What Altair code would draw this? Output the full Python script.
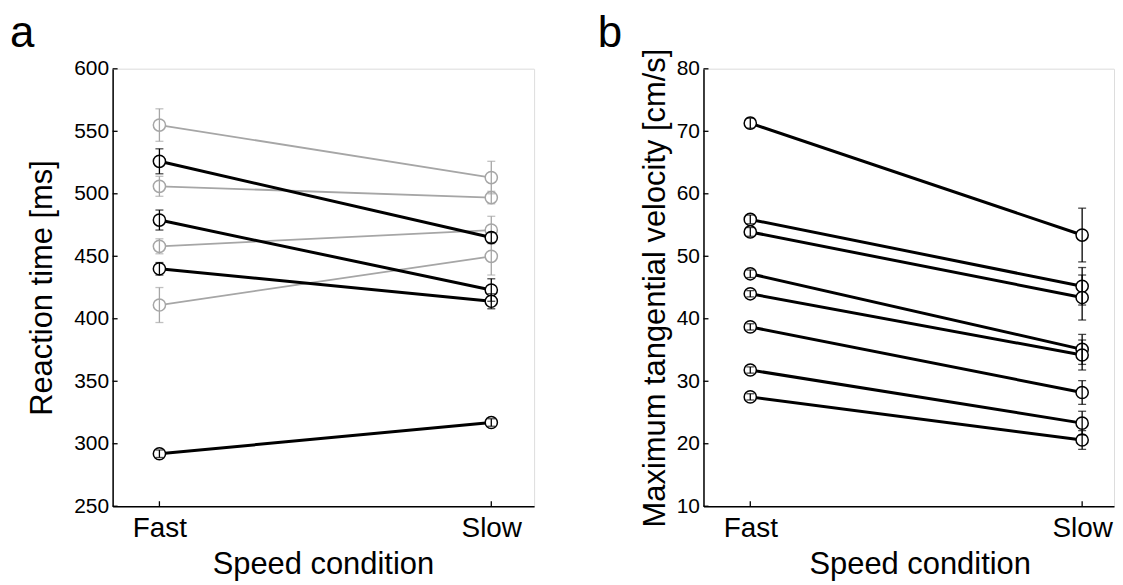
import altair as alt
import pandas as pd

FONT = "Liberation Sans"

conditions = ["Fast", "Slow"]
panel_letters = ["a", "b"]
x_title = "Speed condition"
rt_title = "Reaction time [ms]"
vel_title = "Maximum tangential velocity [cm/s]"

# Panel a: reaction time (ms)
rt_gray_fast = [555, 506, 458, 411]
rt_gray_slow = [513, 497, 471, 450]
rt_gray_fast_err = [13, 8, 6, 14]
rt_gray_slow_err = [13, 5, 11, 15]
rt_black_fast = [526, 479, 440, 292]
rt_black_slow = [465, 423, 414, 317]
rt_black_fast_err = [10, 8, 5, 3]
rt_black_slow_err = [4, 9, 6, 3]
rt_ticks = [250, 300, 350, 400, 450, 500, 550, 600]

# Panel b: max tangential velocity (cm/s)
vel_fast = [71.3, 55.9, 53.9, 47.2, 44.0, 38.7, 31.8, 27.5]
vel_slow = [53.4, 45.2, 43.4, 35.1, 34.2, 28.2, 23.3, 20.6]
vel_fast_err = [0.8, 0.7, 0.7, 0.6, 0.5, 0.5, 0.5, 0.5]
vel_slow_err = [4.3, 3.0, 3.6, 2.4, 2.4, 1.9, 1.9, 1.5]
vel_ticks = [10, 20, 30, 40, 50, 60, 70, 80]

GRAY = "#a6a6a6"
BLACK = "#000000"


def to_long(fast, slow, ferr, serr, prefix):
    rows = []
    for i, (f, s, fe, se) in enumerate(zip(fast, slow, ferr, serr)):
        for ci, (v, e) in enumerate([(f, fe), (s, se)]):
            rows.append(dict(series=f"{prefix}{i}", cond=ci + 1,
                             condition=conditions[ci], value=v,
                             lo=v - e, hi=v + e))
    return pd.DataFrame(rows)


label_expr = "datum.value == 1 ? '%s' : '%s'" % (conditions[0], conditions[1])


def panel(groups, ydomain, yticks, ytitle, W, H, xmax, ytitle_x, xtitle_x,
          letter, letter_x):
    xs = alt.Scale(domain=[0.859, xmax], nice=False, zero=False)
    ys = alt.Scale(domain=ydomain, nice=False, zero=False)
    xaxis = alt.Axis(values=[1, 2], labelExpr=label_expr, title=x_title,
                     grid=False, ticks=False, tickSize=0, labelPadding=30,
                     labelBaseline="alphabetic", labelFontSize=28,
                     labelFont=FONT, titleFont=FONT,
                     titleFontSize=31, titleFontWeight="normal",
                     titleX=xtitle_x, titleY=68, titleBaseline="alphabetic",
                     titleAlign="center",
                     domainColor="black", domainWidth=1.5,
                     labelColor="black", titleColor="black", labelFlush=False)
    yaxis = alt.Axis(values=yticks, title=ytitle, grid=False, ticks=False,
                     tickSize=0, labelPadding=4, labelFontSize=21,
                     labelFont=FONT, titleFont=FONT,
                     titleFontSize=31, titleFontWeight="normal",
                     titleX=ytitle_x, titleY=H / 2, titleBaseline="middle",
                     titleAlign="center",
                     domainColor="black", domainWidth=1.5,
                     labelColor="black", titleColor="black")
    X = alt.X("cond:Q", scale=xs, axis=xaxis)
    layers = []
    # faint top border
    layers.append(
        alt.Chart(pd.DataFrame({"t": [yticks[-1]]})).mark_rule(
            color="#f0f0f0", strokeWidth=1).encode(
            y=alt.Y("t:Q", scale=ys, axis=yaxis), x=alt.value(0), x2=alt.value(W))
    )
    for df, color, lw in groups:
        base = alt.Chart(df)
        layers.append(base.mark_line(color=color, strokeWidth=lw).encode(
            x=X, y=alt.Y("value:Q", scale=ys, axis=yaxis), detail="series:N"))
        layers.append(base.mark_point(shape="circle", filled=True, fill="white",
                                      stroke=color, strokeWidth=1.5, size=150,
                                      opacity=1, fillOpacity=1).encode(
            x=X, y=alt.Y("value:Q", scale=ys, axis=yaxis)))
        layers.append(base.mark_rule(color=color, strokeWidth=1.3).encode(
            x=X, y=alt.Y("lo:Q", scale=ys, axis=yaxis), y2="hi:Q"))
        for fld in ["lo", "hi"]:
            layers.append(base.mark_tick(color=color, orient="horizontal",
                                         size=8, thickness=1.3).encode(
                x=X, y=alt.Y(f"{fld}:Q", scale=ys, axis=yaxis)))
    # inward ticks
    layers.append(
        alt.Chart(pd.DataFrame({"t": yticks})).mark_rule(
            color="black", strokeWidth=1.3).encode(
            y=alt.Y("t:Q", scale=ys, axis=yaxis), x=alt.value(0), x2=alt.value(5))
    )
    layers.append(
        alt.Chart(pd.DataFrame({"c": [1, 2]})).mark_rule(
            color="black", strokeWidth=1.3).encode(
            x=alt.X("c:Q", scale=xs, axis=xaxis), y=alt.value(H), y2=alt.value(H - 5))
    )
    layers.append(
        alt.Chart(pd.DataFrame({"label": [letter]})).mark_text(
            fontSize=44, font=FONT, align="left", baseline="alphabetic",
            color="black").encode(
            text="label:N", x=alt.value(letter_x), y=alt.value(-22))
    )
    return alt.layer(*layers).properties(width=W, height=H)


rt_gray = to_long(rt_gray_fast, rt_gray_slow, rt_gray_fast_err, rt_gray_slow_err, "g")
rt_black = to_long(rt_black_fast, rt_black_slow, rt_black_fast_err, rt_black_slow_err, "k")
vel = to_long(vel_fast, vel_slow, vel_fast_err, vel_slow_err, "v")

H = 439
left = panel([(rt_gray, GRAY, 1.8), (rt_black, BLACK, 3)], [250, 600], rt_ticks,
             rt_title, 423, H, 2.129, -70, 211, panel_letters[0], -103)
right = panel([(vel, BLACK, 3)], [10, 80], vel_ticks, vel_title, 412, H, 2.096,
              -48, 217, panel_letters[1], -106)

chart = alt.hconcat(left, right, spacing=62).properties(
    padding={"left": 1, "top": 2, "right": 0, "bottom": 0}
).configure_view(stroke=None).configure(font=FONT, background="white")

chart.save("out.html", embed_options={"renderer": "svg", "actions": False})
